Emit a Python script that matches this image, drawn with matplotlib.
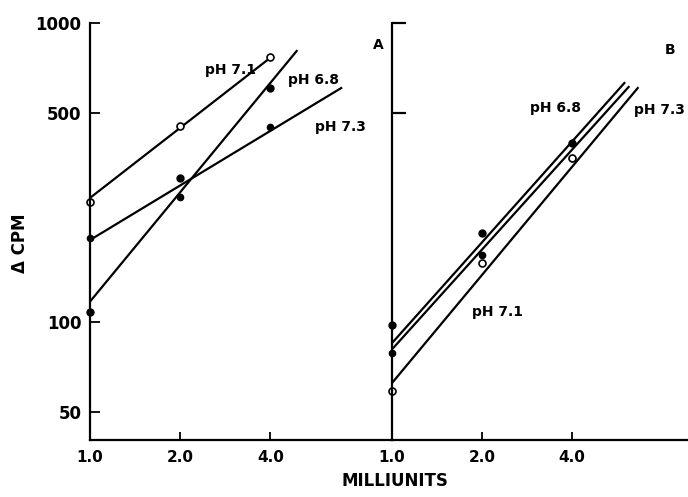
import matplotlib
matplotlib.use("Agg")
import matplotlib.pyplot as plt
from matplotlib.ticker import FixedLocator, NullLocator, FixedFormatter

plt.rcParams.update({"font.family": "DejaVu Sans", "font.weight": "bold"})

# enzyme (milliunits) vs delta cpm
milliunits = [1.0, 2.0, 4.0]

# panel A points
a_ph71 = [252, 452, 770]
a_ph68 = [108, 303, 606]
a_ph73 = [191, 262, 449]
# panel A drawn regression lines (end points)
a_fit71_x, a_fit71_y = [1.0, 4.0], [260, 765]
a_fit68_x, a_fit68_y = [1.0, 4.9], [117, 806]
a_fit73_x, a_fit73_y = [1.0, 6.9], [188, 606]

# panel B points
b_ph68 = [98, 199, 397]
b_ph73 = [79, 167, 354]
b_ph71 = [59, 157, 354]
# panel B drawn regression lines (end points)
b_fit68_x, b_fit68_y = [1.0, 6.0], [85, 630]
b_fit73_x, b_fit73_y = [1.0, 6.2], [81, 611]
b_fit71_x, b_fit71_y = [1.0, 6.65], [62.5, 606]

x_ticks = [1.0, 2.0, 4.0]
x_ticklabels = ["1.0", "2.0", "4.0"]
y_ticks = [50, 100, 500, 1000]
y_ticklabels = ["50", "100", "500", "1000"]

fig = plt.figure(figsize=(6.88, 4.97), dpi=100)
axA = fig.add_axes([90/688, 57/497, 302/688, 417/497])
axB = fig.add_axes([392/688, 57/497, 296/688, 417/497])

LW = 1.6
K = "black"

def style(ax, xmax, ylabels):
    ax.set_xscale("log"); ax.set_yscale("log")
    ax.set_xlim(1.0, xmax); ax.set_ylim(40.3, 1000)
    for s in ("top", "right"):
        ax.spines[s].set_visible(False)
    for s in ("left", "bottom"):
        ax.spines[s].set_linewidth(1.6)
    ax.xaxis.set_major_locator(FixedLocator(x_ticks))
    ax.xaxis.set_major_formatter(FixedFormatter(x_ticklabels))
    ax.xaxis.set_minor_locator(NullLocator())
    ax.yaxis.set_minor_locator(NullLocator())
    ax.tick_params(axis="x", direction="in", length=6, width=1.3, labelsize=11, pad=7)
    if ylabels:
        ax.yaxis.set_major_locator(FixedLocator(y_ticks))
        ax.yaxis.set_major_formatter(FixedFormatter(y_ticklabels))
        ax.tick_params(axis="y", direction="in", length=7, width=1.3, labelsize=12, pad=6)
    else:
        ax.yaxis.set_major_locator(FixedLocator([500, 1000]))
        ax.tick_params(axis="y", direction="in", length=10, width=1.6, labelleft=False)
    ax.patch.set_alpha(0)

style(axA, 10.2, True)
style(axB, 9.8, False)

# panel A
axA.plot(a_fit71_x, a_fit71_y, color=K, lw=LW)
axA.plot(a_fit68_x, a_fit68_y, color=K, lw=LW)
axA.plot(a_fit73_x, a_fit73_y, color=K, lw=LW)
axA.plot(milliunits, a_ph71, "o", ms=5, mfc="white", mec=K, mew=1.2, clip_on=False)
axA.plot(milliunits, a_ph68, "o", ms=5, color=K, clip_on=False)
axA.plot(milliunits, a_ph73, "o", ms=4.5, color=K, clip_on=False)
axA.text(2.42, 696, "pH 7.1", fontsize=10, va="center")
axA.text(4.59, 645, "pH 6.8", fontsize=10, va="center")
axA.text(5.66, 449, "pH 7.3", fontsize=10, va="center")

# panel B
axB.plot(b_fit68_x, b_fit68_y, color=K, lw=LW)
axB.plot(b_fit73_x, b_fit73_y, color=K, lw=LW)
axB.plot(b_fit71_x, b_fit71_y, color=K, lw=LW)
axB.plot(milliunits, b_ph68, "o", ms=5, color=K, clip_on=False)
axB.plot(milliunits, b_ph73, "o", ms=4.5, color=K, clip_on=False)
axB.plot(milliunits, b_ph71, "o", ms=5, mfc="white", mec=K, mew=1.2, clip_on=False)
axB.text(2.89, 519, "pH 6.8", fontsize=10, va="center")
axB.text(6.45, 512, "pH 7.3", fontsize=10, va="center")
axB.text(1.85, 108, "pH 7.1", fontsize=10, va="center")

fig.text(378/688, 1 - 45/497, "A", fontsize=10, ha="center", va="center")
fig.text(670/688, 1 - 50/497, "B", fontsize=10, ha="center", va="center")
fig.text(20/688, 1 - 243/497, "Δ CPM", fontsize=12, rotation=90, ha="center", va="center")
fig.text(395/688, 1 - 481/497, "MILLIUNITS", fontsize=12, ha="center", va="center")

fig.savefig("out.png", dpi=100)
